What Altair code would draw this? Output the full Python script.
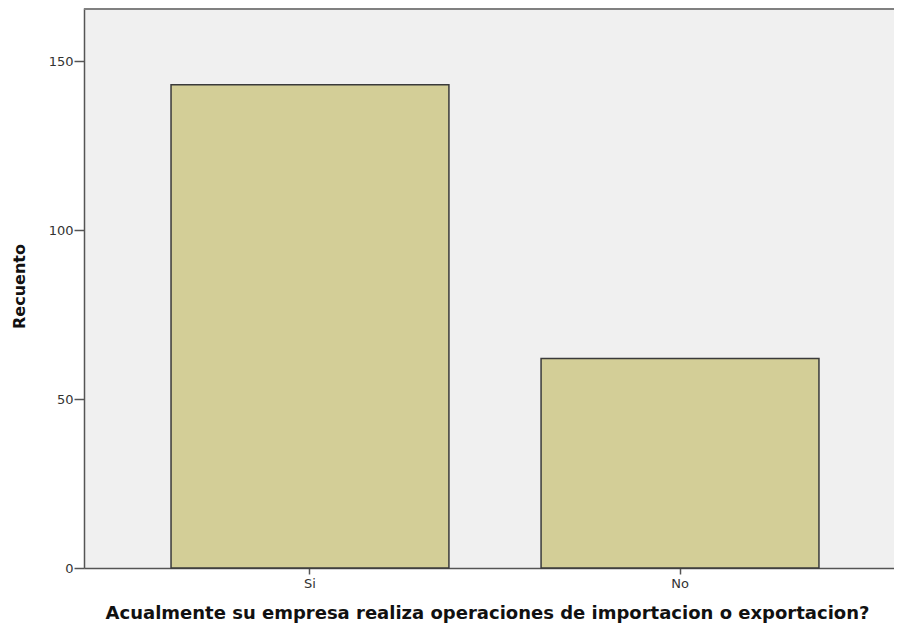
import altair as alt
import pandas as pd

categories = ["Si", "No"]
counts = [143, 62]
y_ticks = [0, 50, 100, 150]

df = pd.DataFrame({"cat": categories, "n": counts})

W, H = 810, 560
YMAX = 165.7

bars = alt.Chart(df).mark_bar(
    fill="#d3ce97", stroke="#3a3a3a", strokeWidth=1.5
).encode(
    x=alt.X("cat:N", sort=categories,
            scale=alt.Scale(paddingInner=0.249, paddingOuter=0.219, align=0.537),
            axis=alt.Axis(
                title="Acualmente su empresa realiza operaciones de importacion o exportacion?",
                labelAngle=0, labelFont="DejaVu Sans", labelFontSize=13, labelColor="#333",
                labelPadding=3, tickSize=6, tickColor="#555", tickWidth=1.5,
                domainColor="#555", domainWidth=1.5,
                titleFont="DejaVu Sans", titleFontSize=18, titleFontWeight="bold",
                titleColor="#111", titleX=403, titleY=50, titleAnchor="middle",
                titleBaseline="alphabetic", titleAlign="center")),
    y=alt.Y("n:Q",
            scale=alt.Scale(domain=[0, YMAX], nice=False, zero=True),
            axis=alt.Axis(
                title="Recuento", values=y_ticks, grid=False,
                labelFont="DejaVu Sans", labelFontSize=13, labelColor="#333",
                labelPadding=1, tickSize=10, tickColor="#555", tickWidth=1.5,
                domainColor="#555", domainWidth=1.5,
                titleFont="DejaVu Sans", titleFontSize=16, titleFontWeight="bold",
                titleColor="#111", titleAngle=-90, titleX=-65, titleY=H / 2 - 2,
                titleAlign="center", titleBaseline="middle")),
)

top = alt.Chart(df).mark_rule(color="#808080", strokeWidth=2).encode(
    x=alt.value(0), x2=alt.value(W), y=alt.value(1)
)

chart = alt.layer(bars, top).properties(
    width=W, height=H,
    background="white",
    autosize=alt.AutoSizeParams(type="none"),
    padding={"left": 76, "top": 0, "right": 0, "bottom": 56},
).configure_view(fill="#f0f0f0", stroke="transparent", strokeWidth=0)

chart.save("out.html", embed_options={"renderer": "svg", "actions": False})
